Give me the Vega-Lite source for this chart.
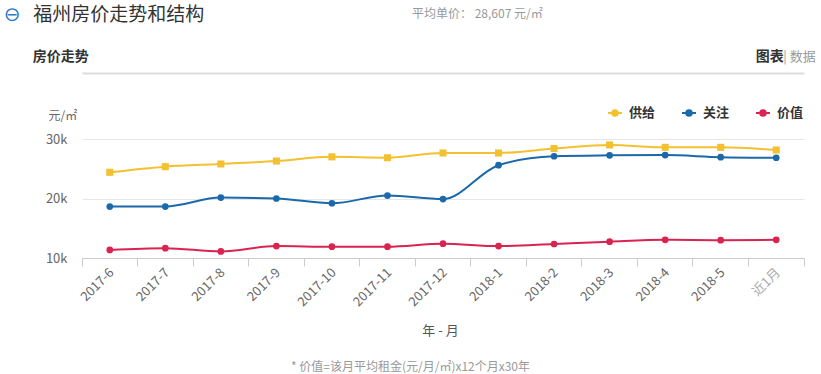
{
  "$schema": "https://vega.github.io/schema/vega-lite/v6.json",
  "width": 722,
  "height": 119,
  "autosize": {"type": "none"},
  "padding": {"left": 82, "top": 139, "right": 17, "bottom": 116},
  "background": "white",
  "config": {"view": {"stroke": null}, "font": "Noto Sans CJK SC"},
  "data": {
    "values": [
      {"month": "2017-6", "series": "供给", "value": 24400},
      {"month": "2017-7", "series": "供给", "value": 25350},
      {"month": "2017-8", "series": "供给", "value": 25800},
      {"month": "2017-9", "series": "供给", "value": 26300},
      {"month": "2017-10", "series": "供给", "value": 27000},
      {"month": "2017-11", "series": "供给", "value": 26850},
      {"month": "2017-12", "series": "供给", "value": 27650},
      {"month": "2018-1", "series": "供给", "value": 27650},
      {"month": "2018-2", "series": "供给", "value": 28400},
      {"month": "2018-3", "series": "供给", "value": 29000},
      {"month": "2018-4", "series": "供给", "value": 28600},
      {"month": "2018-5", "series": "供给", "value": 28600},
      {"month": "近1月", "series": "供给", "value": 28150},
      {"month": "2017-6", "series": "关注", "value": 18650},
      {"month": "2017-7", "series": "关注", "value": 18650},
      {"month": "2017-8", "series": "关注", "value": 20150},
      {"month": "2017-9", "series": "关注", "value": 20000},
      {"month": "2017-10", "series": "关注", "value": 19200},
      {"month": "2017-11", "series": "关注", "value": 20500},
      {"month": "2017-12", "series": "关注", "value": 19900},
      {"month": "2018-1", "series": "关注", "value": 25600},
      {"month": "2018-2", "series": "关注", "value": 27100},
      {"month": "2018-3", "series": "关注", "value": 27250},
      {"month": "2018-4", "series": "关注", "value": 27300},
      {"month": "2018-5", "series": "关注", "value": 26950},
      {"month": "近1月", "series": "关注", "value": 26850},
      {"month": "2017-6", "series": "价值", "value": 11350},
      {"month": "2017-7", "series": "价值", "value": 11650},
      {"month": "2017-8", "series": "价值", "value": 11100},
      {"month": "2017-9", "series": "价值", "value": 12000},
      {"month": "2017-10", "series": "价值", "value": 11900},
      {"month": "2017-11", "series": "价值", "value": 11900},
      {"month": "2017-12", "series": "价值", "value": 12400},
      {"month": "2018-1", "series": "价值", "value": 12000},
      {"month": "2018-2", "series": "价值", "value": 12350},
      {"month": "2018-3", "series": "价值", "value": 12750},
      {"month": "2018-4", "series": "价值", "value": 13050},
      {"month": "2018-5", "series": "价值", "value": 13000},
      {"month": "近1月", "series": "价值", "value": 13050}
    ]
  },
  "layer": [
    {
      "mark": {"type": "line", "interpolate": "monotone", "strokeWidth": 2},
      "encoding": {
        "x": {
          "field": "month", "type": "ordinal",
          "sort": ["2017-6","2017-7","2017-8","2017-9","2017-10","2017-11","2017-12","2018-1","2018-2","2018-3","2018-4","2018-5","近1月"],
          "scale": {"type": "band", "paddingInner": 0, "paddingOuter": 0},
          "axis": {
            "orient": "bottom", "title": "年 - 月", "titleX": 358, "titleY": 72,
            "titleBaseline": "middle", "titleAlign": "center", "titleFontSize": 13,
            "titleFontWeight": "normal", "titleColor": "#555",
            "labelAngle": -45, "labelAlign": "right", "labelBaseline": "middle",
            "labelFontSize": 13,
            "labelColor": {"condition": {"test": "datum.value == '近1月'", "value": "#aaa"}, "value": "#666"},
            "labelOffset": 2, "labelPadding": 4, "bandPosition": 0,
            "tickSize": 8, "tickColor": "#ccc", "domainColor": "#ccc",
            "grid": false, "labelOverlap": false
          }
        },
        "y": {
          "field": "value", "type": "quantitative",
          "scale": {"domain": [10000, 30000], "nice": false, "zero": false},
          "axis": {
            "values": [10000, 20000, 30000], "format": "~s",
            "labelFontSize": 13, "labelColor": "#666", "labelPadding": 15,
            "ticks": false, "domain": false, "gridColor": "#e6e6e6",
            "title": "元/㎡", "titleAngle": 0, "titleX": -34, "titleY": -24,
            "titleAlign": "left", "titleBaseline": "middle", "titleFontSize": 12,
            "titleFontWeight": "normal", "titleColor": "#666"
          }
        },
        "color": {
          "field": "series", "type": "nominal",
          "scale": {"domain": ["供给", "关注", "价值"], "range": ["#f3c12f", "#1a69aa", "#d92350"]},
          "legend": {
            "orient": "none", "legendX": 525, "legendY": -34, "direction": "horizontal",
            "title": null, "padding": 0,
            "symbolType": "M-1,0H1M0.4,0A0.4,0.4,0,1,1,-0.4,0A0.4,0.4,0,1,1,0.4,0Z",
            "symbolSize": 196, "symbolStrokeWidth": 2,
            "labelFontSize": 13, "labelFontWeight": "bold", "labelColor": "#333",
            "labelOffset": 6, "columnPadding": 22,
            "encode": {"symbols": {"update": {
              "fill": {"scale": "color", "field": "value"},
              "stroke": {"scale": "color", "field": "value"}
            }}}
          }
        }
      }
    },
    {
      "transform": [{"filter": "datum.series == '供给'"}],
      "mark": {"type": "point", "filled": true, "opacity": 1, "size": 50, "shape": "square"},
      "encoding": {
        "x": {
          "field": "month", "type": "ordinal",
          "sort": ["2017-6","2017-7","2017-8","2017-9","2017-10","2017-11","2017-12","2018-1","2018-2","2018-3","2018-4","2018-5","近1月"],
          "scale": {"type": "band", "paddingInner": 0, "paddingOuter": 0},
          "axis": {
            "orient": "top", "offset": 66, "domainColor": "#ddd", "domainWidth": 2,
            "ticks": false, "tickSize": 0, "grid": false, "bandPosition": 0.5,
            "labelAngle": 0, "labelAlign": "left", "labelBaseline": "middle",
            "labelOverlap": false, "labelBound": false, "labelLimit": 400,
            "labelExpr": "datum.value == '2017-6' ? '⊖' : datum.value == '2017-7' ? '福州房价走势和结构' : datum.value == '2017-8' ? '房价走势' : datum.value == '2017-12' ? '平均单价：  28,607 元/㎡' : datum.value == '2018-5' ? '图表' : datum.value == '近1月' ? '| 数据' : ''",
            "labelOffset": {"expr": "datum.value == '2017-6' ? -106 : datum.value == '2017-7' ? -132 : datum.value == '2017-8' ? -188 : datum.value == '2017-12' ? -31 : datum.value == '2018-5' ? 35 : 7"},
            "labelPadding": {"expr": "datum.value == '2017-6' || datum.value == '2017-7' ? 59 : datum.value == '2017-12' ? 60 : 17"},
            "labelFontSize": {"expr": "datum.value == '2017-6' ? 20 : datum.value == '2017-7' ? 19 : datum.value == '2017-12' ? 12 : datum.value == '近1月' ? 13 : 14"},
            "labelFontWeight": {"expr": "datum.value == '2017-8' || datum.value == '2018-5' ? 'bold' : 'normal'"},
            "labelColor": {"expr": "datum.value == '2017-6' ? '#2b7bc9' : (datum.value == '2017-12' || datum.value == '近1月') ? '#999' : '#333'"},
            "labelFont": {"expr": "datum.value == '2017-6' ? 'DejaVu Sans' : 'Noto Sans CJK SC'"},
            "title": "* 价值=该月平均租金(元/月/㎡)x12个月x30年",
            "titleX": 328, "titleY": 293, "titleBaseline": "middle", "titleAlign": "center",
            "titleFontSize": 12, "titleFontWeight": "normal", "titleColor": "#999"
          }
        },
        "y": {
          "field": "value", "type": "quantitative",
          "scale": {"domain": [10000, 30000], "nice": false, "zero": false}
        },
        "color": {
          "field": "series", "type": "nominal",
          "scale": {"domain": ["供给", "关注", "价值"], "range": ["#f3c12f", "#1a69aa", "#d92350"]},
          "legend": null
        }
      }
    },
    {
      "transform": [{"filter": "datum.series != '供给'"}],
      "mark": {"type": "point", "filled": true, "opacity": 1, "size": 45, "shape": "circle"},
      "encoding": {
        "x": {
          "field": "month", "type": "ordinal",
          "sort": ["2017-6","2017-7","2017-8","2017-9","2017-10","2017-11","2017-12","2018-1","2018-2","2018-3","2018-4","2018-5","近1月"],
          "scale": {"type": "band", "paddingInner": 0, "paddingOuter": 0},
          "axis": {
            "orient": "bottom", "values": ["近1月"], "bandPosition": 1,
            "labels": false, "domain": false, "grid": false, "title": null,
            "tickSize": 8, "tickColor": "#ccc"
          }
        },
        "y": {
          "field": "value", "type": "quantitative",
          "scale": {"domain": [10000, 30000], "nice": false, "zero": false}
        },
        "color": {
          "field": "series", "type": "nominal",
          "scale": {"domain": ["供给", "关注", "价值"], "range": ["#f3c12f", "#1a69aa", "#d92350"]},
          "legend": null
        }
      }
    }
  ],
  "resolve": {"axis": {"x": "independent"}}
}
